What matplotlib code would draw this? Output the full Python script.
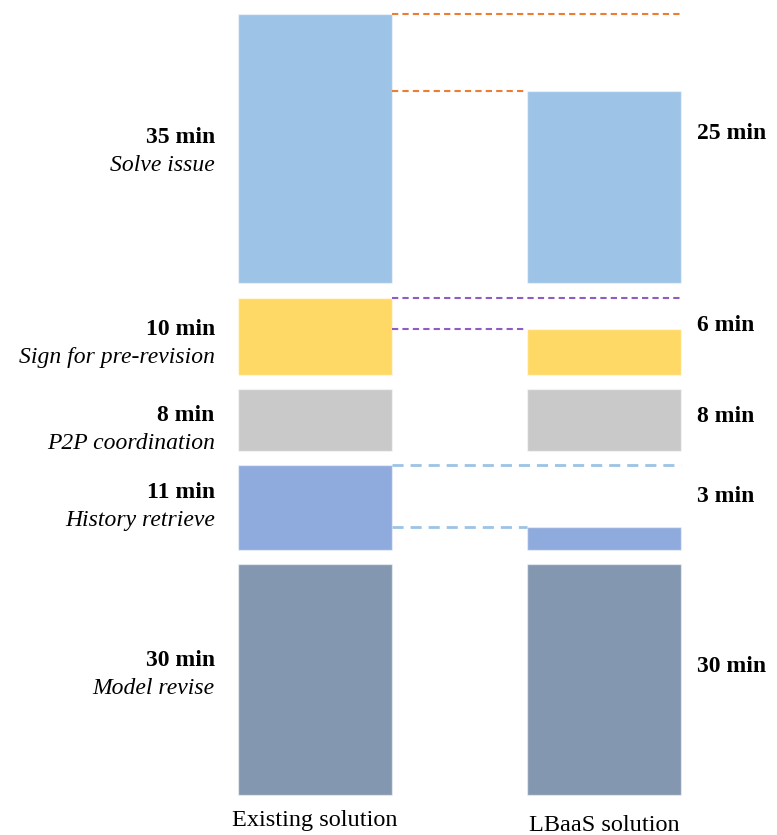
import numpy as np
import matplotlib.pyplot as plt

plt.rcParams['font.family'] = ['Liberation Serif', 'DejaVu Serif']

# stages from bottom to top, minutes per stage
stages = ["Model revise", "History retrieve", "P2P coordination",
          "Sign for pre-revision", "Solve issue"]
existing = [30, 11, 8, 10, 35]
lbaas = [30, 3, 8, 6, 25]
solutions = ["Existing solution", "LBaaS solution"]

colors = ["#8497B0", "#8FAADC", "#C9C9C9", "#FFD966", "#9DC3E6"]
dash_colors = {1: "#9DC3E6", 3: "#8E5CC2", 4: "#ED7D31"}
dash_styles = {1: (0, (4, 2.5)), 3: (0, (3, 2)), 4: (0, (3, 2))}

# small per-row nudges (pixels, downward) for the text beside the bars
left_nudge = [-5, -1, 10, 7, 3]
right_nudge = [1, 3, 11, 3, -1]

gap = 1.86
width = 0.533
x = np.arange(len(solutions))

fig = plt.figure(figsize=(7.77, 8.35), dpi=100)
ax = fig.add_axes([0, 0, 1, 1])
ax.set_xlim(-1.09, 1.599)
ax.set_ylim(-5.19, 103.25)
ax.axis('off')

px = 1 / 7.7  # minutes per pixel, vertically

bottoms = np.concatenate([[0], np.cumsum(np.array(existing) + gap)[:-1]])

for i, stage in enumerate(stages):
    b = bottoms[i]
    ax.bar(x[0], existing[i], width, bottom=b, color=colors[i],
           edgecolor=(1, 1, 1, 0.5), linewidth=1)
    ax.bar(x[1], lbaas[i], width, bottom=b, color=colors[i],
           edgecolor=(1, 1, 1, 0.5), linewidth=1)

    # dashed guides where the new time is shorter
    if lbaas[i] < existing[i]:
        lw = 2 if i == 1 else 1.5
        ax.plot([x[0] + width / 2, x[1] + width / 2], [b + existing[i]] * 2,
                color=dash_colors[i], lw=lw, linestyle=dash_styles[i])
        ax.plot([x[0] + width / 2, x[1] - width / 2], [b + lbaas[i]] * 2,
                color=dash_colors[i], lw=lw, linestyle=dash_styles[i])

    mid = b + existing[i] / 2
    yl = mid - left_nudge[i] * px
    ax.text(x[0] - width / 2 - 0.08, yl + 14 * px, f"{existing[i]} min",
            ha='right', va='center', fontsize=17, fontweight='bold')
    ax.text(x[0] - width / 2 - 0.08, yl - 14 * px, stage,
            ha='right', va='center', fontsize=17, style='italic')
    ax.text(x[1] + width / 2 + 0.055, mid + (14 - right_nudge[i]) * px,
            f"{lbaas[i]} min",
            ha='left', va='center', fontsize=17, fontweight='bold')

ax.text(x[0], -25 * px, solutions[0], ha='center', va='center', fontsize=17.5)
ax.text(x[1], -30 * px, solutions[1], ha='center', va='center', fontsize=17.5)

fig.savefig("out.png", dpi=100)
